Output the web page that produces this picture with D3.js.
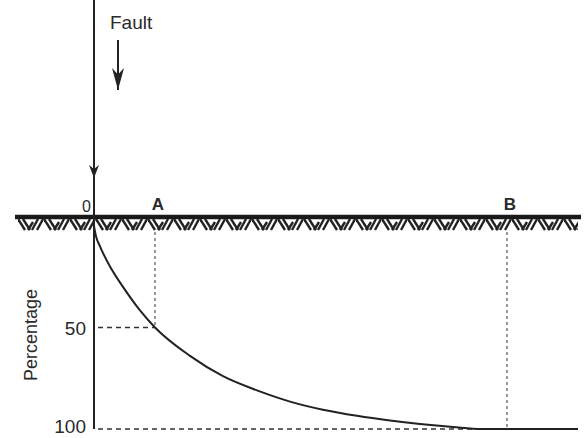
<!DOCTYPE html>
<html>
<head>
<meta charset="utf-8">
<script src="https://cdn.jsdelivr.net/npm/d3@7"></script>
<style>
  body { margin: 0; background: #fff; }
  text { font-family: "Liberation Sans", Arial, sans-serif; fill: #2a2a2a; }
</style>
</head>
<body>
<svg id="chart" width="588" height="438"></svg>
<script>
// distance from the fault (arbitrary units) vs percentage of subsidence
const distance   = [0, 0.5, 1.5, 4, 7.25, 11.5, 15.25, 24, 32.25, 40.75, 49, 57.25, 65.75, 74, 81.5, 89.75, 97, 121];
const percentage = [0, 5, 10, 20, 30, 41.6, 50, 64, 74, 81, 86.5, 90.5, 93.5, 95.8, 97.5, 99, 100, 100];
const yTicks = [50, 100];
const points = [{label: "A", d: 15.25, p: 50}, {label: "B", d: 103.25, p: 100}];

const svg = d3.select("#chart");
const x = d3.scaleLinear().domain([0, 121]).range([94, 578]);
const y = d3.scaleLinear().domain([0, 100]).range([226, 429]);
const groundY = 217;

const defs = svg.append("defs");
function marker(id, len, wid) {
  defs.append("marker")
    .attr("id", id)
    .attr("viewBox", "0 0 10 10")
    .attr("refX", 10).attr("refY", 5)
    .attr("markerWidth", len).attr("markerHeight", wid)
    .attr("markerUnits", "userSpaceOnUse")
    .attr("orient", "auto")
    .attr("preserveAspectRatio", "none")
    .append("path").attr("d", "M0,0 L10,5 L0,10 L3,5 Z").attr("fill", "#222");
}
marker("head", 13, 10);
marker("bighead", 22, 12);

// hatch pattern under the ground surface
const pat = defs.append("pattern")
  .attr("id", "hatch")
  .attr("patternUnits", "userSpaceOnUse")
  .attr("width", 26).attr("height", 14)
  .attr("x", 18).attr("y", groundY + 1);
[[0,1,7,12],[5,1,12,12],[14,12,20,1],[19,12,25,1],[10,12,15,4]].forEach(function(l) {
  pat.append("line")
    .attr("x1", l[0]).attr("y1", l[1]).attr("x2", l[2]).attr("y2", l[3])
    .attr("stroke", "#222").attr("stroke-width", 2.4);
});

svg.append("rect")
  .attr("x", 18).attr("y", groundY + 1)
  .attr("width", 560).attr("height", 13)
  .attr("fill", "url(#hatch)");

// ground line
svg.append("line")
  .attr("x1", 15).attr("x2", 581)
  .attr("y1", groundY).attr("y2", groundY)
  .attr("stroke", "#1a1a1a").attr("stroke-width", 4.5);

// fault / vertical axis
svg.append("line")
  .attr("x1", x(0)).attr("x2", x(0))
  .attr("y1", 0).attr("y2", y(100))
  .attr("stroke", "#222").attr("stroke-width", 2);
svg.append("line")
  .attr("x1", x(0)).attr("x2", x(0))
  .attr("y1", 150).attr("y2", 178)
  .attr("stroke", "#222").attr("stroke-width", 2)
  .attr("marker-end", "url(#head)");

// "Fault" label with arrow
svg.append("text").attr("x", 110).attr("y", 29)
  .attr("font-size", 19).text("Fault");
svg.append("line")
  .attr("x1", 118).attr("x2", 118)
  .attr("y1", 40).attr("y2", 90)
  .attr("stroke", "#222").attr("stroke-width", 2)
  .attr("marker-end", "url(#bighead)");

// dashed guides
points.forEach(function(pt) {
  svg.append("line")
    .attr("x1", x(pt.d)).attr("x2", x(pt.d))
    .attr("y1", groundY + 15).attr("y2", y(pt.p))
    .attr("stroke", "#333").attr("stroke-width", 1)
    .attr("stroke-dasharray", "3,3");
  svg.append("line")
    .attr("x1", x(0) + 4).attr("x2", x(pt.d))
    .attr("y1", y(pt.p)).attr("y2", y(pt.p))
    .attr("stroke", "#333").attr("stroke-width", 1.3)
    .attr("stroke-dasharray", "5,4");
  svg.append("text")
    .attr("x", x(pt.d) + 3).attr("y", groundY - 7)
    .attr("text-anchor", "middle")
    .attr("font-size", 17).attr("font-weight", "bold")
    .text(pt.label);
});

// origin label
svg.append("text").attr("x", x(0) - 3).attr("y", groundY - 5)
  .attr("text-anchor", "end").attr("font-size", 16).text("0");

// y tick labels
svg.selectAll(".ytick").data(yTicks).enter().append("text")
  .attr("class", "ytick")
  .attr("x", x(0) - 8)
  .attr("y", function(d) { return Math.min(y(d) + 7, 433); })
  .attr("text-anchor", "end")
  .attr("font-size", 19)
  .text(function(d) { return d; });

svg.append("text")
  .attr("transform", "translate(37,335) rotate(-90)")
  .attr("text-anchor", "middle")
  .attr("font-size", 18)
  .text("Percentage");

// subsidence curve
const data = distance.map(function(d, i) { return {d: d, p: percentage[i]}; });
const line = d3.line()
  .x(function(d) { return x(d.d); })
  .y(function(d) { return y(d.p); })
  .curve(d3.curveMonotoneX);
svg.append("path").datum(data)
  .attr("d", line)
  .attr("fill", "none")
  .attr("stroke", "#222").attr("stroke-width", 2);
</script>
</body>
</html>
